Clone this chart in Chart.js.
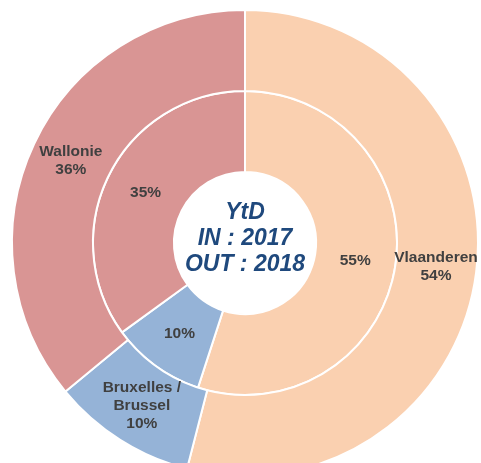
<!DOCTYPE html>
<html>
<head>
<meta charset="utf-8">
<script src="https://cdn.jsdelivr.net/npm/chart.js@4/dist/chart.umd.min.js"></script>
<style>
  html, body { margin: 0; padding: 0; background: #ffffff; overflow: hidden; }
  #wrap { width: 481px; height: 463px; position: relative; }
</style>
</head>
<body>
<div id="wrap"><canvas id="c" width="481" height="463"></canvas></div>
<script>
const categories = ["Vlaanderen", "Bruxelles / Brussel", "Wallonie"];
const outerLabelLines = [["Vlaanderen"], ["Bruxelles /", "Brussel"], ["Wallonie"]];
const outValues2018 = [54, 10, 36];
const inValues2017 = [55, 10, 35];
const centerLines = ["YtD", "IN : 2017", "OUT : 2018"];
const colors = ["#FAD0B0", "#95B3D7", "#D99594"];

const labelPlugin = {
  id: 'ringLabels',
  afterDatasetsDraw(chart) {
    const ctx = chart.ctx;
    ctx.save();
    ctx.fillStyle = '#404040';
    ctx.font = 'bold 15.5px "Liberation Sans", Arial, sans-serif';
    ctx.textAlign = 'center';
    ctx.textBaseline = 'middle';
    chart.data.datasets.forEach((ds, di) => {
      const meta = chart.getDatasetMeta(di);
      meta.data.forEach((arc, i) => {
        const p = arc.tooltipPosition();
        const lines = di === 0 ? outerLabelLines[i].concat([ds.data[i] + '%']) : [ds.data[i] + '%'];
        const lh = 18;
        const startY = p.y - (lines.length - 1) * lh / 2;
        lines.forEach((t, k) => ctx.fillText(t, p.x, startY + k * lh));
      });
    });
    // center text
    const arc0 = chart.getDatasetMeta(0).data[0];
    const cx = arc0.x, cy = arc0.y;
    ctx.fillStyle = '#1F497D';
    ctx.font = 'italic bold 23px "Liberation Sans", Arial, sans-serif';
    const lh2 = 26;
    centerLines.forEach((t, k) => ctx.fillText(t, cx, cy - 4 + (k - 1) * lh2));
    ctx.restore();
  }
};

new Chart(document.getElementById('c'), {
  type: 'doughnut',
  data: {
    labels: categories,
    datasets: [
      { label: 'OUT : 2018', data: outValues2018, backgroundColor: colors, borderColor: '#ffffff', borderWidth: 2, clip: false },
      { label: 'IN : 2017', data: inValues2017, backgroundColor: colors, borderColor: '#ffffff', borderWidth: 2, clip: false }
    ]
  },
  options: {
    responsive: false,
    animation: false,
    radius: 233,
    cutout: '30.5%',
    layout: { padding: { left: 9, right: 0, top: 23, bottom: 0 } },
    plugins: { legend: { display: false }, tooltip: { enabled: false } }
  },
  plugins: [labelPlugin]
});
</script>
</body>
</html>
